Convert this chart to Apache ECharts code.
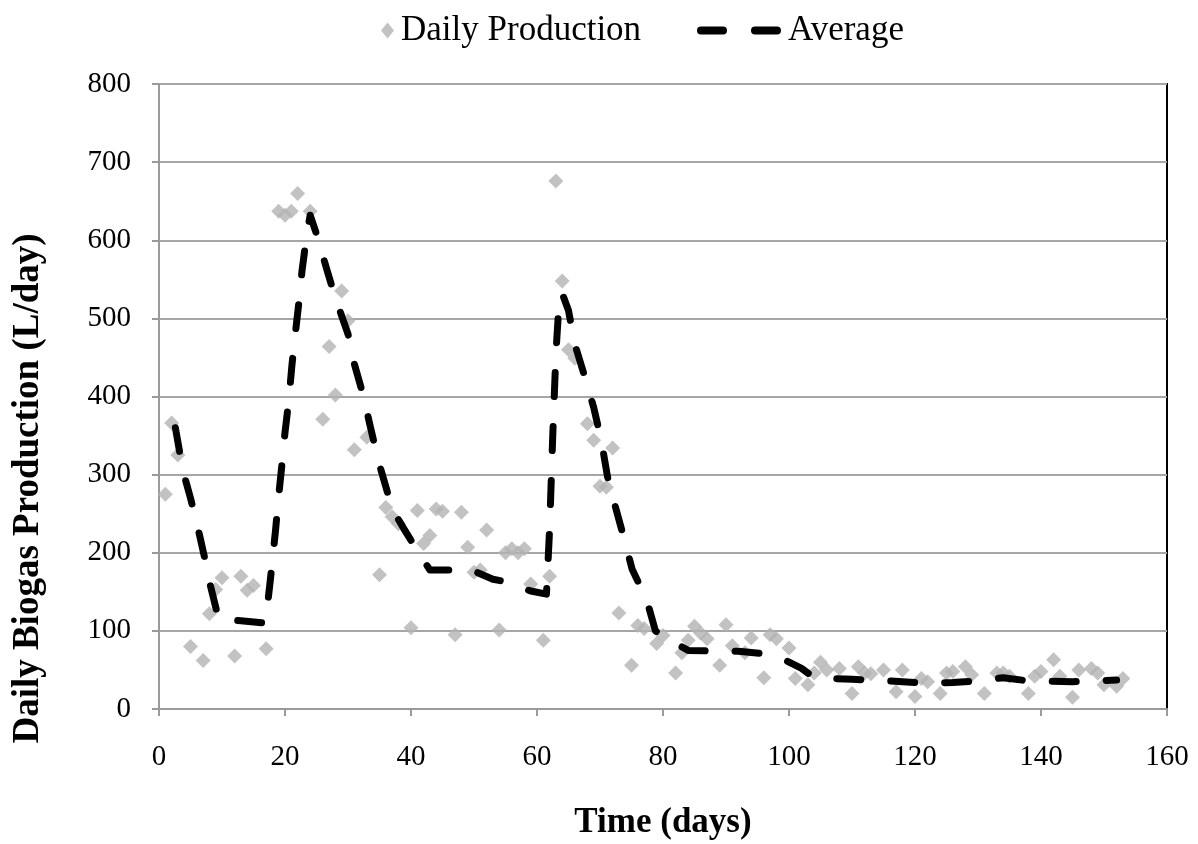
<!DOCTYPE html>
<html>
<head>
<meta charset="utf-8">
<script src="https://cdn.jsdelivr.net/npm/echarts@6/dist/echarts.min.js"></script>
<style>
  html, body { margin: 0; padding: 0; background: #fff; }
  #chart { width: 1198px; height: 844px; }
</style>
</head>
<body>
<div id="chart"></div>
<script>
// daily biogas production readings (day, L/day)
var prodDays = [1, 2, 3, 5, 7, 8, 9, 10, 12, 13, 14, 15, 17, 19, 20, 21, 22, 24, 26, 27,
  28, 29, 30, 31, 33, 35, 36, 37, 38, 40, 41, 42, 43, 44, 45, 47, 48, 49, 50, 51,
  52, 54, 55, 56, 57, 58, 59, 61, 62, 63, 64, 65, 66, 68, 69, 70, 71, 72, 73, 75,
  76, 77, 79, 80, 82, 83, 84, 85, 86, 87, 89, 90, 91, 93, 94, 96, 97, 98, 100, 101,
  103, 104, 105, 106, 108, 110, 111, 112, 113, 115, 117, 118, 120, 121, 122, 124, 125, 126, 128, 129,
  131, 133, 134, 135, 138, 139, 140, 142, 143, 145, 146, 148, 149, 150, 152, 153];
var prodValues = [275, 366, 325, 80, 62, 122, 153, 168, 68, 170, 152, 158, 77, 637, 632, 637, 660, 637, 371, 464,
  402, 535, 497, 332, 348, 172, 258, 246, 237, 104, 254, 212, 222, 256, 253, 95, 252, 207, 175, 178,
  229, 101, 200, 205, 200, 205, 160, 88, 170, 676, 548, 460, 449, 365, 344, 285, 284, 334, 123, 56,
  107, 103, 84, 94, 46, 72, 88, 106, 97, 90, 56, 108, 81, 72, 91, 40, 95, 90, 78, 39,
  31, 46, 60, 50, 52, 20, 54, 46, 45, 50, 22, 50, 16, 39, 35, 20, 46, 48, 54, 44,
  20, 46, 46, 42, 20, 42, 48, 63, 42, 15, 50, 52, 46, 31, 29, 39];

// average curve (day, L/day)
var avgDays = [2.6, 3.8, 5, 6.2, 7.4, 8.1, 9.5, 13, 16.9, 17.6, 18, 18.5, 19, 19.5, 20, 20.6, 21.1, 21.6, 22.2, 22.7,
  23.5, 24, 25, 26.7, 28, 30, 31, 32.5, 33.5, 34.8, 36.1, 37, 39, 42, 43, 47, 49, 53, 55, 59,
  61.5, 62, 62.5, 63, 63.5, 64, 65, 66, 67.4, 69, 70.2, 71.2, 72.3, 73.9, 75.1, 77.4, 78.8, 82, 84, 89,
  92, 97, 99, 102, 104, 110, 116, 122, 126, 130, 134, 138, 145, 152];
var avgValues = [360, 305, 270, 231, 188, 160, 114, 113, 110, 160, 190, 229, 273, 312, 354, 395, 440, 478, 520, 561,
  610, 632, 608, 561, 526, 480, 442, 399, 363, 318, 282, 256, 229, 190, 178, 178, 180, 166, 163, 151,
  147, 230, 350, 455, 520, 532, 510, 467, 430, 386, 344, 297, 263, 216, 179, 140, 100, 84, 75, 74,
  74, 70, 64, 52, 40, 38, 36, 33, 34, 36, 40, 36, 35, 37];

var xTicks = [0, 20, 40, 60, 80, 100, 120, 140, 160];
var yTicks = [0, 100, 200, 300, 400, 500, 600, 700, 800];

var font = '"Liberation Serif", "Times New Roman", serif';

var chart = echarts.init(document.getElementById('chart'));

var prodData = prodDays.map(function (d, i) { return [d, prodValues[i]]; });
var avgData = avgDays.map(function (d, i) { return [d, avgValues[i]]; });

// two rounded dashes for the legend of the average line
var dashIcon = 'path://M4,0H26A4,4 0 0 1 26,8H4A4,4 0 0 1 4,0Z M58,0H80A4,4 0 0 1 80,8H58A4,4 0 0 1 58,0Z';

var option = {
  backgroundColor: '#fff',
  animation: false,
  legend: [{
    data: [{ name: 'Daily Production', icon: 'diamond' }],
    left: 376,
    top: 8,
    itemWidth: 13,
    itemHeight: 16,
    textStyle: { fontFamily: font, fontSize: 35, color: '#000', padding: [0, 0, 0, 2] }
  }, {
    data: [{ name: 'Average', icon: dashIcon, itemStyle: { color: '#000' } }],
    left: 692,
    top: 8,
    itemWidth: 84,
    itemHeight: 9,
    textStyle: { fontFamily: font, fontSize: 35, color: '#000', padding: [0, 0, 0, 2] }
  }],
  grid: {
    left: 159,
    right: 31,
    top: 84,
    bottom: 135,
    containLabel: false,
    outerBoundsMode: 'none',
    show: true,
    borderColor: '#000',
    borderWidth: 2
  },
  xAxis: {
    type: 'value',
    min: xTicks[0],
    max: xTicks[xTicks.length - 1],
    interval: 20,
    name: 'Time (days)',
    nameLocation: 'middle',
    nameGap: 96,
    nameTextStyle: { fontFamily: font, fontSize: 35, fontWeight: 'bold', color: '#000' },
    axisLine: { show: true, lineStyle: { color: '#9a9a9a', width: 2 } },
    axisTick: { show: true, length: 7, lineStyle: { color: '#9a9a9a', width: 2 } },
    axisLabel: { fontFamily: font, fontSize: 29, color: '#000', margin: 34 },
    splitLine: { show: false }
  },
  yAxis: {
    type: 'value',
    min: yTicks[0],
    max: yTicks[yTicks.length - 1],
    interval: 100,
    name: 'Daily Biogas Production (L/day)',
    nameLocation: 'middle',
    nameGap: 112,
    nameTextStyle: { fontFamily: font, fontSize: 37, fontWeight: 'bold', color: '#000', padding: [0, 184, 0, 0] },
    axisLine: { show: true, lineStyle: { color: '#9a9a9a', width: 2 } },
    axisTick: { show: true, length: 7, lineStyle: { color: '#9a9a9a', width: 2 } },
    axisLabel: { fontFamily: font, fontSize: 29, color: '#000', margin: 28 },
    splitLine: { show: true, lineStyle: { color: '#a6a6a6', width: 2 } }
  },
  series: [{
    name: 'Daily Production',
    type: 'scatter',
    symbol: 'diamond',
    symbolSize: 15,
    itemStyle: { color: '#b3b3b3' },
    data: prodData,
    z: 2
  }, {
    name: 'Average',
    type: 'line',
    symbol: 'none',
    data: avgData,
    itemStyle: { color: '#000' },
    lineStyle: { color: '#000', width: 7, type: [24, 30], cap: 'round', join: 'round' },
    z: 3
  }]
};

chart.setOption(option);
</script>
</body>
</html>
